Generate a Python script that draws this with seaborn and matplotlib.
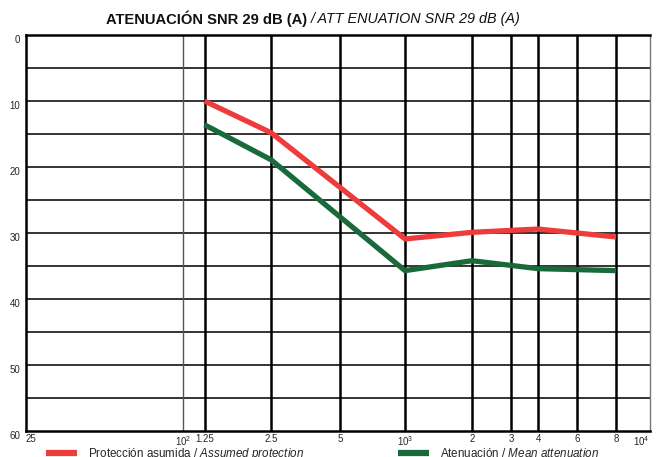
import numpy as np
import pandas as pd
import seaborn as sns
import matplotlib.pyplot as plt
from matplotlib.lines import Line2D

# data (Hz, dB)
freqs = [125, 250, 1000, 2000, 4000, 8000]
assumed = [10.0, 14.8, 30.9, 29.9, 29.4, 30.6]
mean_att = [13.6, 18.9, 35.7, 34.2, 35.4, 35.7]

tick_freqs = [25, 100, 125, 250, 500, 1000, 2000, 3000, 4000, 6000, 8000, 10000]
tick_labels = ['25', '$10^{2}$', '1.25', '2.5', '5', '$10^{3}$', '2', '3', '4', '6', '8', '$10^{4}$']
y_labels = [0, 10, 20, 30, 40, 50, 60]

# the printed frequency axis is only roughly logarithmic: place ticks where the sheet has them
tick_pos = [26, 183, 204.5, 271, 340, 405, 472, 511, 538, 577, 616, 650]
lf = np.log10(tick_freqs)


def fwd(x):
    x = np.clip(np.asarray(x, dtype=float), 1e-3, None)
    return np.interp(np.log10(x), lf, tick_pos)


def inv(p):
    return 10 ** np.interp(p, tick_pos, lf)


df = pd.DataFrame({
    'freq': freqs * 2,
    'db': assumed + mean_att,
    'serie': ['asumida'] * len(freqs) + ['media'] * len(freqs),
})

sns.set_theme(style='white')
plt.rcParams['font.family'] = ['Liberation Sans', 'DejaVu Sans']
plt.rcParams['mathtext.fontset'] = 'custom'
plt.rcParams['mathtext.rm'] = 'Liberation Sans'
plt.rcParams['mathtext.it'] = 'Liberation Sans:italic'

red = '#ee3b3b'
green = '#196a3a'

fig = plt.figure(figsize=(6.62, 4.57), dpi=100)
ax = fig.add_axes([26 / 662, 1 - 431 / 457, 624 / 662, 396 / 457])
ax.set_xscale('function', functions=(fwd, inv))
ax.set_xlim(25, 10000)
ax.set_ylim(60, 0)

# grid
for y in range(5, 60, 5):
    ax.axhline(y, color='#111111', lw=1.2, zorder=1)
for f in tick_freqs[1:-1]:
    if f == 100:
        ax.axvline(f, color='#555555', lw=1.0, zorder=1)
    else:
        ax.axvline(f, color='black', lw=1.8, zorder=1)

sns.lineplot(data=df, x='freq', y='db', hue='serie', palette=[red, green],
             linewidth=3.8, ax=ax, legend=False, zorder=3, solid_capstyle='butt')

ax.set_xticks(tick_freqs)
ax.set_xticklabels(tick_labels, fontsize=7)
ax.set_yticks(y_labels)
ax.set_yticklabels([str(v) for v in y_labels], fontsize=7, va='top')
ax.tick_params(axis='x', length=0, pad=2)
ax.tick_params(axis='y', length=0, pad=4)
xt = ax.get_xticklabels()
xt[0].set_horizontalalignment('left')
xt[-1].set_horizontalalignment('right')
ax.set_xlabel('')
ax.set_ylabel('')

for s in ['top', 'left', 'bottom']:
    ax.spines[s].set_color('black')
    ax.spines[s].set_linewidth(1.8)
ax.spines['right'].set_color('#777777')
ax.spines['right'].set_linewidth(1.0)

# title in two styles
fig.text(307 / 662, 1 - 19 / 457, 'ATENUACIÓN SNR 29 dB (A)', fontsize=10.6,
         fontweight='bold', ha='right', va='center', color='#111111')
fig.text(311 / 662, 1 - 19 / 457, '/ ATT ENUATION SNR 29 dB (A)', fontsize=10.4,
         style='italic', ha='left', va='center', color='#111111')

handles = [Line2D([], [], color=red, lw=4.5, solid_capstyle='butt'),
           Line2D([], [], color=green, lw=4.5, solid_capstyle='butt')]
labels = ['Protección asumida / $Assumed\\ protection$',
          'Atenuación / $Mean\\ attenuation$']
fig.legend(handles, labels, loc='upper left', bbox_to_anchor=(46 / 662, 1 - 446 / 457),
           ncol=2, frameon=False, fontsize=8.4, handlelength=2.65, handletextpad=0.95,
           columnspacing=8.1, borderpad=0, borderaxespad=0)

fig.savefig('out.png', dpi=100)
